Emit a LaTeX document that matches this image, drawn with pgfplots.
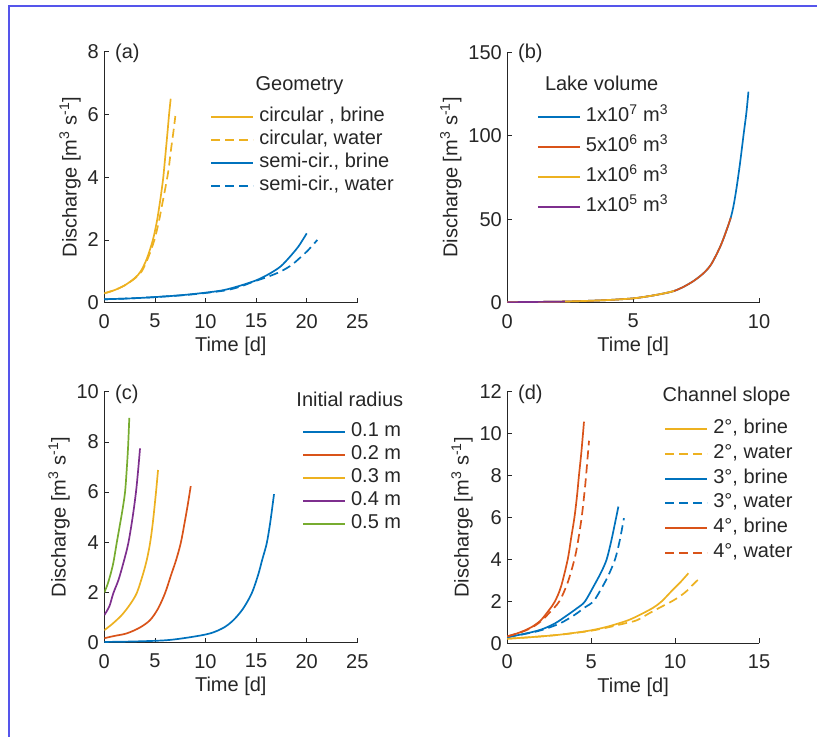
\documentclass[border=0pt]{standalone}
\usepackage{fontspec}
\setmainfont{Liberation Sans}
\usepackage{pgfplots}
\pgfplotsset{compat=1.18}

% MATLAB default line colours
\definecolor{mblue}{rgb}{0,0.447,0.741}
\definecolor{morange}{rgb}{0.85,0.325,0.098}
\definecolor{myellow}{rgb}{0.929,0.694,0.125}
\definecolor{mpurple}{rgb}{0.494,0.184,0.556}
\definecolor{mgreen}{rgb}{0.466,0.674,0.188}
\definecolor{axgray}{rgb}{0.15,0.15,0.15}
\definecolor{frameblue}{RGB}{85,85,235}

\newcommand{\fs}{\fontsize{20bp}{23bp}\selectfont}

\pgfplotsset{
  panel/.style={
    scale only axis, anchor=south west,
    axis x line*=bottom, axis y line*=left,
    tick align=inside, major tick length=5bp,
    axis line style={draw=axgray, line width=0.7bp},
    tick style={draw=axgray, line width=0.7bp},
    tick label style={font=\fs, text=axgray},
    xticklabel style={yshift=-8bp},
    yticklabel style={xshift=-2bp},
    label style={font=\fs, text=axgray},
    xlabel style={yshift=-2bp},
    /pgf/number format/assume math mode=true,
    xlabel={Time [d]},
    ylabel={Discharge [m\textsuperscript{3} s\textsuperscript{-1}]},
    legend cell align=left,
    legend image code/.code={\draw[##1, line width=2bp] (0bp,0bp) -- (42bp,0bp);},
    legend style={draw=none, fill=none, inner sep=0pt, anchor=north west,
      font=\fs, text=axgray, column sep=5bp,
      nodes={inner sep=0pt, text height=13bp, text depth=4bp}},
    every axis plot/.append style={line width=1.7bp, smooth},
  },
  mdash/.style={dash pattern=on 9bp off 5bp},
}

\begin{document}
\begin{tikzpicture}[font=\fs]
\useasboundingbox (0,0) rectangle (817bp,-737bp);
\draw[frameblue, line width=1.6bp] (9bp,-737bp) -- (9bp,-6bp) -- (817bp,-6bp);

% (a) geometry
\begin{axis}[panel, at={(104.3bp,-302.7bp)}, width=253bp, height=251bp,
  xmin=0, xmax=25, ymin=0, ymax=8, xtick={0,5,...,25}, ytick={0,2,...,8},
  legend style={at={(0.418,0.774)}, row sep=6bp}]
\addplot[myellow] coordinates {(0,0.30)(1,0.40)(2,0.55)(3,0.78)(3.6,1.0)(4.2,1.4)(4.8,2.0)(5.2,2.6)(5.45,3.1)(5.65,3.55)(5.83,4.0)(6.05,4.75)(6.25,5.45)(6.4,6.0)(6.56,6.5)};
\addlegendentry{circular , brine}
\addplot[myellow, mdash] coordinates {(0,0.30)(1,0.40)(2,0.55)(3,0.77)(3.7,1.0)(4.35,1.45)(4.95,2.0)(5.4,2.6)(5.7,3.1)(6.0,3.6)(6.33,4.2)(6.6,4.9)(6.85,5.5)(7.02,5.95)};
\addlegendentry{circular, water}
\addplot[mblue] coordinates {(0,0.11)(2,0.13)(4,0.16)(6,0.2)(7.81,0.245)(10,0.32)(11.77,0.4)(13.5,0.55)(15.06,0.72)(16.3,0.92)(17.4,1.15)(18.3,1.45)(19.2,1.8)(20.0,2.21)};
\addlegendentry{semi-cir., brine}
\addplot[mblue, mdash] coordinates {(0,0.11)(2,0.13)(4,0.16)(6,0.2)(8,0.245)(10,0.31)(12.1,0.4)(13.5,0.52)(14.73,0.67)(16.1,0.82)(17.4,0.99)(18.5,1.2)(19.4,1.45)(20.16,1.68)(21.05,2.0)};
\addlegendentry{semi-cir., water}
\end{axis}
\node[anchor=base, inner sep=0pt, text=axgray] at (299.5bp,-90.5bp) {Geometry};
\node[anchor=base west, inner sep=0pt, text=axgray] at (115bp,-58bp) {(a)};

% (b) lake volume
\begin{axis}[panel, at={(507.3bp,-302.7bp)}, width=251.7bp, height=250.4bp,
  xmin=0, xmax=10, ymin=0, ymax=150, xtick={0,5,10}, ytick={0,50,100,150},
  legend style={at={(0.117,0.776)}, row sep=13bp}]
\addplot[mblue] coordinates {(0,0.3)(1,0.45)(2,0.6)(2.29,0.7)(3,1.0)(4,1.6)(5,2.6)(5.66,4.0)(6.2,5.5)(6.62,7.0)(7,9.5)(7.4,13)(7.79,17.6)(8.1,23)(8.46,33.6)(8.7,43)(8.88,51)(9.0,59)(9.12,70)(9.25,84)(9.39,101)(9.5,114)(9.58,126.4)};
\addlegendentry{1x10\textsuperscript{7} m\textsuperscript{3}}
\addplot[morange] coordinates {(0,0.3)(1,0.45)(2,0.6)(2.29,0.7)(3,1.0)(4,1.6)(5,2.6)(5.66,4.0)(6.2,5.5)(6.62,7.0)(7,9.5)(7.4,13)(7.79,17.6)(8.1,23)(8.46,33.6)(8.7,43)(8.88,51)};
\addlegendentry{5x10\textsuperscript{6} m\textsuperscript{3}}
\addplot[myellow] coordinates {(0,0.3)(1,0.45)(2,0.6)(2.29,0.7)(3,1.0)(4,1.6)(5,2.6)(5.66,4.0)(6.2,5.5)(6.62,7.0)};
\addlegendentry{1x10\textsuperscript{6} m\textsuperscript{3}}
\addplot[mpurple] coordinates {(0,0.3)(1,0.45)(2,0.6)(2.29,0.7)};
\addlegendentry{1x10\textsuperscript{5} m\textsuperscript{3}}
\end{axis}
\node[anchor=base, inner sep=0pt, text=axgray] at (601.7bp,-90.5bp) {Lake volume};
\node[anchor=base west, inner sep=0pt, text=axgray] at (518bp,-58bp) {(b)};

% (c) initial radius
\begin{axis}[panel, at={(104.3bp,-642.7bp)}, width=253bp, height=251bp,
  xmin=0, xmax=25, ymin=0, ymax=10, xtick={0,5,...,25}, ytick={0,2,...,10},
  legend style={at={(0.781,0.876)}, row sep=6bp}]
\addplot[mblue] coordinates {(0,0.03)(3,0.05)(6.16,0.1)(8.5,0.22)(10.45,0.37)(11.8,0.6)(12.76,0.9)(13.7,1.35)(14.57,1.97)(15.2,2.7)(15.6,3.3)(16.05,3.96)(16.4,4.8)(16.77,5.92)};
\addlegendentry{0.1 m}
\addplot[morange] coordinates {(0,0.18)(1,0.27)(2.21,0.37)(3.5,0.6)(4.52,0.9)(5.3,1.35)(6.0,1.97)(6.6,2.7)(7.1,3.3)(7.55,3.96)(7.9,4.7)(8.25,5.5)(8.54,6.24)};
\addlegendentry{0.2 m}
\addplot[myellow] coordinates {(0,0.5)(0.8,0.75)(1.72,1.1)(2.5,1.5)(3.2,1.97)(3.8,2.7)(4.2,3.3)(4.52,3.96)(4.8,4.8)(5.11,6.0)(5.31,6.88)};
\addlegendentry{0.3 m}
\addplot[mpurple] coordinates {(0,1.1)(0.5,1.45)(0.89,1.97)(1.4,2.5)(1.9,3.2)(2.37,3.96)(2.8,5.0)(3.13,6.0)(3.35,6.9)(3.53,7.74)};
\addlegendentry{0.4 m}
\addplot[mgreen] coordinates {(0,2.0)(0.3,2.3)(0.6,2.7)(0.9,3.2)(1.22,3.96)(1.5,4.6)(1.8,5.3)(2.05,6.0)(2.2,6.8)(2.35,7.8)(2.47,8.96)};
\addlegendentry{0.5 m}
\end{axis}
\node[anchor=base, inner sep=0pt, text=axgray] at (349.8bp,-406bp) {Initial radius};
\node[anchor=base west, inner sep=0pt, text=axgray] at (115bp,-399bp) {(c)};

% (d) channel slope
\begin{axis}[panel, at={(507.3bp,-643.3bp)}, width=251.7bp, height=251.6bp,
  xmin=0, xmax=15, ymin=0, ymax=12, xtick={0,5,10,15}, ytick={0,2,...,12},
  legend style={at={(0.623,0.885)}, row sep=7.7bp}]
\addplot[myellow] coordinates {(0,0.22)(1,0.27)(2,0.33)(3,0.4)(4,0.5)(5,0.62)(6,0.8)(7.2,1.1)(8,1.4)(8.7,1.7)(9.2,2.0)(9.8,2.5)(10.3,2.9)(10.79,3.34)};
\addlegendentry{2°, brine}
\addplot[myellow, mdash] coordinates {(0,0.22)(1,0.27)(2,0.33)(3,0.4)(4,0.49)(5,0.6)(6,0.76)(7,0.95)(7.72,1.1)(8.5,1.45)(9.2,1.75)(9.8,2.0)(10.3,2.25)(10.7,2.5)(11.0,2.75)(11.35,3.02)};
\addlegendentry{2°, water}
\addplot[mblue] coordinates {(0,0.3)(1,0.45)(2,0.65)(2.84,0.95)(3.5,1.3)(4.2,1.7)(4.63,2.0)(5.2,2.8)(5.6,3.4)(5.92,4.0)(6.2,4.9)(6.48,5.97)(6.62,6.52)};
\addlegendentry{3°, brine}
\addplot[mblue, mdash] coordinates {(0,0.3)(1,0.44)(2,0.62)(3.14,0.95)(4,1.35)(4.6,1.7)(5.13,2.0)(5.6,2.6)(6.0,3.2)(6.42,4.0)(6.7,4.9)(6.95,5.97)};
\addlegendentry{3°, water}
\addplot[morange] coordinates {(0,0.33)(0.5,0.45)(1,0.6)(1.5,0.8)(2,1.1)(2.5,1.6)(2.84,2.0)(3.2,2.7)(3.6,4.0)(3.8,5.0)(4.0,6.0)(4.15,7.0)(4.27,8.0)(4.4,9.0)(4.5,9.9)(4.57,10.57)};
\addlegendentry{4°, brine}
\addplot[morange, mdash] coordinates {(0,0.33)(0.5,0.45)(1,0.58)(1.5,0.77)(2,1.05)(2.5,1.45)(3.1,2.0)(3.6,2.9)(4.0,4.0)(4.2,4.8)(4.43,6.0)(4.6,7.2)(4.69,7.95)(4.8,9.0)(4.87,9.66)};
\addlegendentry{4°, water}
\end{axis}
\node[anchor=base, inner sep=0pt, text=axgray] at (726.5bp,-401.5bp) {Channel slope};
\node[anchor=base west, inner sep=0pt, text=axgray] at (518bp,-399bp) {(d)};
\end{tikzpicture}
\end{document}
